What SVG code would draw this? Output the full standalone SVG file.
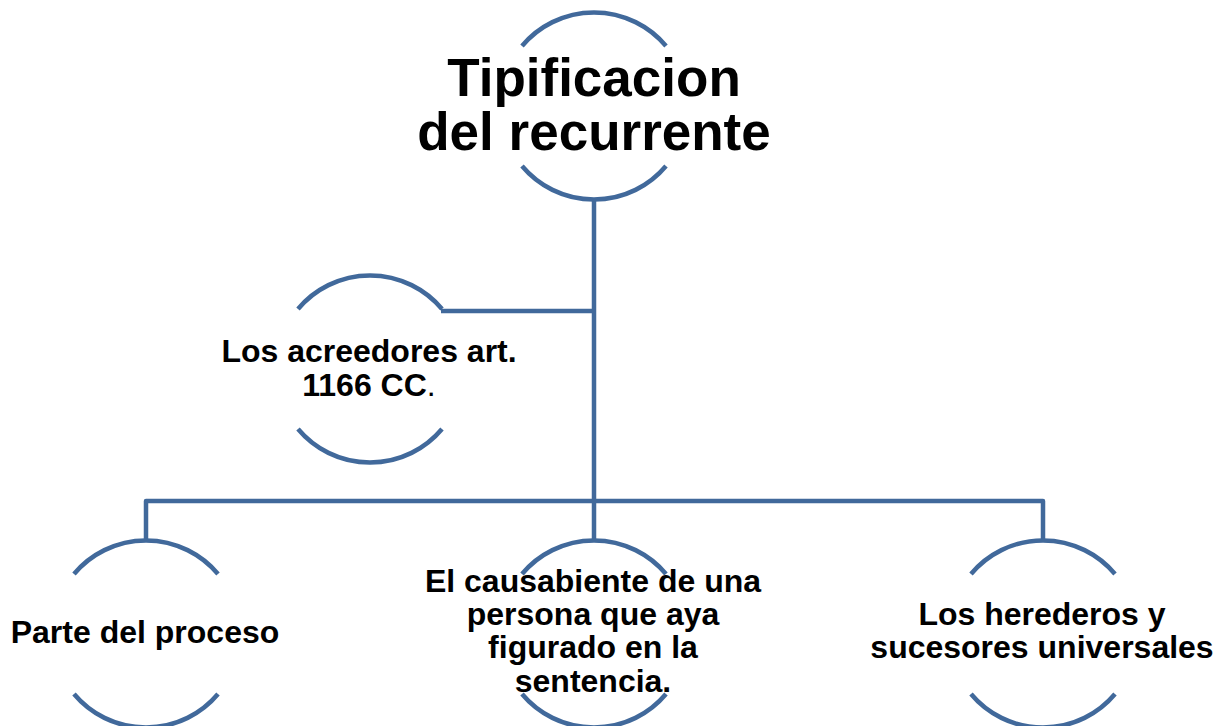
<svg xmlns="http://www.w3.org/2000/svg" width="1228" height="726" viewBox="0 0 1228 726">
<style>
.arc{fill:none;stroke:#41699B;stroke-width:4.5;stroke-linecap:butt}
.con{fill:none;stroke:#41699B;stroke-width:4.5;stroke-linejoin:round}
.t{font-family:"Liberation Sans",Arial,sans-serif;font-weight:bold;fill:#000;text-anchor:middle}
.big{font-size:53px}
.sm{font-size:32px}
</style>
<rect width="1228" height="726" fill="#fff"/>
<g id="connectors">
<path class="con" d="M594 200 V501 M594 311 H441 M146 540 V501 H1043 V540 M594 501 V540"/>
</g>
<g id="node-root">
<path class="arc" d="M522 46 A94 94 0 0 1 666 46 M522 166 A94 94 0 0 0 666 166"/>
<text class="t big" x="594" y="96">Tipificacion</text>
<text class="t big" x="594" y="150">del recurrente</text>
</g>
<g id="node-acreedores">
<path class="arc" d="M298 309 A94 94 0 0 1 442 309 M298 429 A94 94 0 0 0 442 429"/>
<text class="t sm" x="369" y="362">Los acreedores art.</text>
<text class="t sm" x="369" y="396">1166 CC<tspan font-weight="normal">.</tspan></text>
</g>
<g id="node-parte">
<path class="arc" d="M74 574 A94 94 0 0 1 218 574 M74 694 A94 94 0 0 0 218 694"/>
<text class="t sm" x="145" y="643">Parte del proceso</text>
</g>
<g id="node-causabiente">
<path class="arc" d="M522 574 A94 94 0 0 1 666 574 M522 694 A94 94 0 0 0 666 694"/>
<text class="t sm" x="593" y="592">El causabiente de una</text>
<text class="t sm" x="593" y="625">persona que aya</text>
<text class="t sm" x="593" y="658">figurado en la</text>
<text class="t sm" x="593" y="692">sentencia.</text>
</g>
<g id="node-herederos">
<path class="arc" d="M971 574 A94 94 0 0 1 1115 574 M971 694 A94 94 0 0 0 1115 694"/>
<text class="t sm" x="1042" y="625">Los herederos y</text>
<text class="t sm" x="1042" y="658">sucesores universales</text>
</g>
</svg>
